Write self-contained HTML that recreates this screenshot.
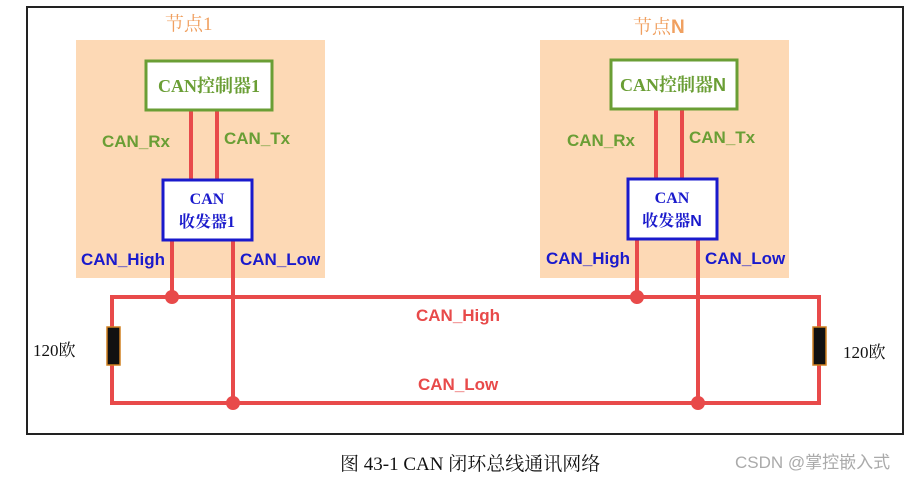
<!DOCTYPE html>
<html><head><meta charset="utf-8"><style>
body{margin:0;background:#fff;}
svg text{font-family:"Liberation Sans","Noto Sans CJK SC",sans-serif;}
.s{font-family:"Liberation Serif","Noto Serif CJK SC",serif;}
</style></head><body>
<svg width="924" height="482" viewBox="0 0 924 482" xmlns="http://www.w3.org/2000/svg">
<rect x="27" y="7" width="876" height="427" fill="#fff" stroke="#222" stroke-width="2"/>
<rect x="76" y="40" width="249" height="238" fill="#fdd9b5"/>
<rect x="540" y="40" width="249" height="238" fill="#fdd9b5"/>
<text x="165" y="30" class="s" font-size="19" fill="#f0a060">节点1</text>
<text x="633" y="33" font-size="19" fill="#f0a060"><tspan class="s">节点</tspan><tspan font-weight="bold">N</tspan></text>
<g stroke="#e84a4a" stroke-width="4" fill="none">
<line x1="191" y1="110" x2="191" y2="179"/><line x1="217" y1="110" x2="217" y2="179"/>
<line x1="656" y1="110" x2="656" y2="179"/><line x1="682" y1="110" x2="682" y2="179"/>
<line x1="172" y1="240" x2="172" y2="297"/><line x1="233" y1="240" x2="233" y2="403"/>
<line x1="637" y1="240" x2="637" y2="297"/><line x1="698" y1="240" x2="698" y2="403"/>
<polyline points="112,327 112,297 819,297 819,327"/>
<polyline points="112,365 112,403 819,403 819,365"/>
</g>
<g fill="#e84a4a"><circle cx="172" cy="297" r="7"/><circle cx="637" cy="297" r="7"/><circle cx="233" cy="403" r="7"/><circle cx="698" cy="403" r="7"/></g>
<rect x="107" y="327" width="13" height="38" fill="#111" stroke="#d08020" stroke-width="1.5"/>
<rect x="813" y="327" width="13" height="38" fill="#111" stroke="#d08020" stroke-width="1.5"/>
<text x="33" y="356" class="s" font-size="17" fill="#111">120欧</text>
<text x="843" y="358" class="s" font-size="17" fill="#111">120欧</text>
<rect x="146" y="61" width="126" height="49" fill="#fff" stroke="#6a9e35" stroke-width="3"/>
<text x="209" y="92" text-anchor="middle" class="s" font-size="18" font-weight="bold" fill="#6a9e35">CAN控制器1</text>
<rect x="611" y="60" width="126" height="49" fill="#fff" stroke="#6a9e35" stroke-width="3"/>
<text x="673" y="91" text-anchor="middle" font-size="18" font-weight="bold" fill="#6a9e35"><tspan class="s">CAN控制器</tspan><tspan>N</tspan></text>
<rect x="163" y="180" width="89" height="60" fill="#fff" stroke="#1a1acc" stroke-width="3"/>
<text x="207" y="204" text-anchor="middle" class="s" font-size="16" font-weight="bold" fill="#1a1acc">CAN</text>
<text x="207" y="227" text-anchor="middle" class="s" font-size="16" font-weight="bold" fill="#1a1acc">收发器1</text>
<rect x="628" y="179" width="89" height="60" fill="#fff" stroke="#1a1acc" stroke-width="3"/>
<text x="672" y="203" text-anchor="middle" class="s" font-size="16" font-weight="bold" fill="#1a1acc">CAN</text>
<text x="672" y="226" text-anchor="middle" font-size="16" font-weight="bold" fill="#1a1acc"><tspan class="s">收发器</tspan><tspan>N</tspan></text>
<g font-weight="bold" font-size="17">
<text x="102" y="147" fill="#6a9e35">CAN_Rx</text>
<text x="224" y="144" fill="#6a9e35">CAN_Tx</text>
<text x="567" y="146" fill="#6a9e35">CAN_Rx</text>
<text x="689" y="143" fill="#6a9e35">CAN_Tx</text>
<text x="81" y="265" fill="#1a1acc">CAN_High</text>
<text x="240" y="265" fill="#1a1acc">CAN_Low</text>
<text x="546" y="264" fill="#1a1acc">CAN_High</text>
<text x="705" y="264" fill="#1a1acc">CAN_Low</text>
<text x="416" y="321" fill="#e84a4a">CAN_High</text>
<text x="418" y="390" fill="#e84a4a">CAN_Low</text>
</g>
<text x="340" y="470" class="s" font-size="19" fill="#111">图 43-1 CAN 闭环总线通讯网络</text>
<text x="735" y="468" font-size="17" fill="#aaa">CSDN @掌控嵌入式</text>
</svg>
</body></html>
